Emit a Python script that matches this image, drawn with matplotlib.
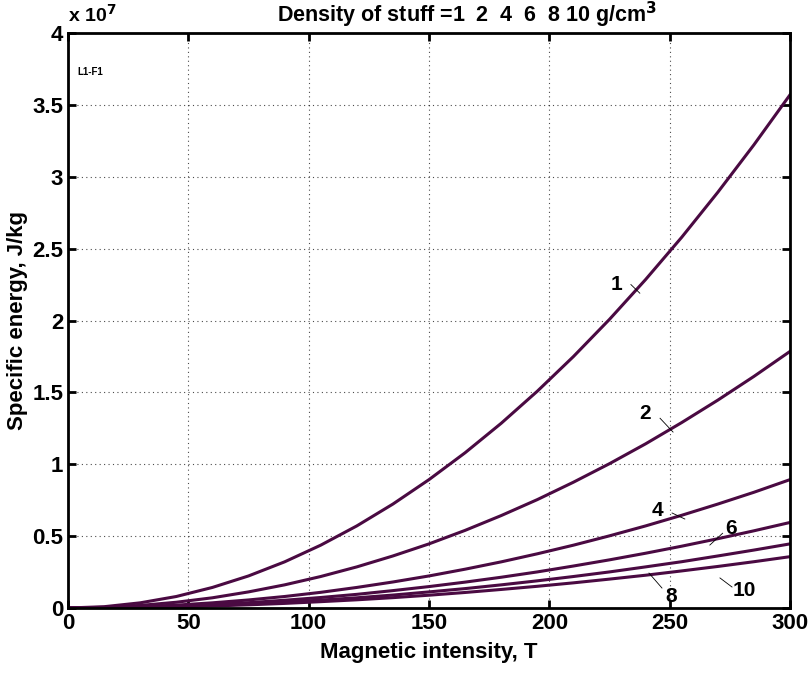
import numpy as np
import matplotlib.pyplot as plt
from matplotlib.ticker import FuncFormatter

# magnetic intensity, T
field = [0, 15, 30, 45, 60, 75, 90, 105, 120, 135, 150, 165, 180, 195, 210, 225, 240, 255, 270, 285, 300]
# specific energy, units of 1e7 J/kg per density (g/cm3)
e_rho1 = [0, 0.009, 0.036, 0.080, 0.143, 0.223, 0.321, 0.437, 0.571, 0.723, 0.893, 1.08,
          1.285, 1.508, 1.749, 2.008, 2.285, 2.579, 2.892, 3.222, 3.57]
e_rho2 = [0, 0.0045, 0.018, 0.040, 0.071, 0.112, 0.161, 0.219, 0.286, 0.362, 0.446, 0.54,
          0.643, 0.754, 0.875, 1.004, 1.142, 1.29, 1.446, 1.611, 1.785]
e_rho4 = [0, 0.0022, 0.009, 0.020, 0.036, 0.056, 0.080, 0.109, 0.143, 0.181, 0.223, 0.27,
          0.321, 0.377, 0.437, 0.502, 0.571, 0.645, 0.723, 0.805, 0.893]
e_rho6 = [0, 0.0015, 0.006, 0.013, 0.024, 0.037, 0.054, 0.073, 0.095, 0.121, 0.149, 0.18,
          0.214, 0.251, 0.292, 0.335, 0.381, 0.43, 0.482, 0.537, 0.595]
e_rho8 = [0, 0.0011, 0.0045, 0.010, 0.018, 0.028, 0.040, 0.055, 0.071, 0.090, 0.112, 0.135,
          0.161, 0.189, 0.219, 0.251, 0.286, 0.322, 0.362, 0.403, 0.446]
e_rho10 = [0, 0.0009, 0.0036, 0.008, 0.014, 0.022, 0.032, 0.044, 0.057, 0.072, 0.089, 0.108,
           0.129, 0.151, 0.175, 0.201, 0.228, 0.258, 0.289, 0.322, 0.357]

curves = [e_rho1, e_rho2, e_rho4, e_rho6, e_rho8, e_rho10]
# label text, text position, leader start, leader end
labels = [
    ("1", (228, 2.25), (233.9, 2.25), (237.6, 2.19)),
    ("2", (239.7, 1.356), (246, 1.32), (251.4, 1.224)),
    ("4", (245, 0.675), (251, 0.661), (256.3, 0.619)),
    ("6", (275.4, 0.556), (272, 0.52), (266.7, 0.438)),
    ("8", (250.5, 0.077), (246.8, 0.139), (241.4, 0.243)),
    ("10", (281, 0.125), (275.9, 0.146), (270.9, 0.209)),
]

FONT = ['Liberation Sans Narrow', 'Liberation Sans', 'DejaVu Sans']
plt.rcParams['font.family'] = FONT
plt.rcParams['font.weight'] = 'bold'
plt.rcParams['mathtext.default'] = 'bf'

fig = plt.figure(figsize=(8.1, 6.81), dpi=100)
ax = fig.add_axes([68 / 810, 1 - 608 / 681, 722 / 810, 575 / 681])

for y in curves:
    ax.plot(field, y, color='#4a0a42', lw=2.2)

for txt, tpos, p0, p1 in labels:
    ax.text(tpos[0], tpos[1], txt, fontsize=15, fontweight='bold', ha='center', va='center')
    ax.plot([p0[0], p1[0]], [p0[1], p1[1]], color='black', lw=0.6)

ax.set_xlim(0, 300)
ax.set_ylim(0, 4)
ax.set_xticks(np.arange(0, 301, 50))
ax.set_yticks(np.arange(0, 4.01, 0.5))
ax.yaxis.set_major_formatter(FuncFormatter(lambda v, p: f"{v:g}"))
ax.grid(True, ls=(0, (1, 3)), color='black', lw=0.8, alpha=0.7)
ax.tick_params(direction='in', top=True, right=True, length=6, width=2, labelsize=16)
for s in ax.spines.values():
    s.set_linewidth(2)
for lab in ax.get_xticklabels() + ax.get_yticklabels():
    lab.set_fontweight('bold')

ax.set_xlabel("Magnetic intensity, T", fontsize=16, fontweight='bold', labelpad=6)
ax.set_ylabel("Specific energy, J/kg", fontsize=16, fontweight='bold')
ax.yaxis.set_label_coords(-0.055, 0.5)

ax.text(0.553, 1.019, "Density of stuff =1  2  4  6  8 10 g/cm$^3$", transform=ax.transAxes,
        fontsize=15.5, fontweight='bold', ha='center', va='baseline')
ax.text(0.0, 1.019, "x 10$^7$", transform=ax.transAxes, fontsize=14, fontweight='bold',
        ha='left', va='baseline')
ax.text(3.7, 3.73, "L1-F1", fontsize=7, fontweight='bold', ha='left', va='center')

fig.savefig("out.png", dpi=100)
